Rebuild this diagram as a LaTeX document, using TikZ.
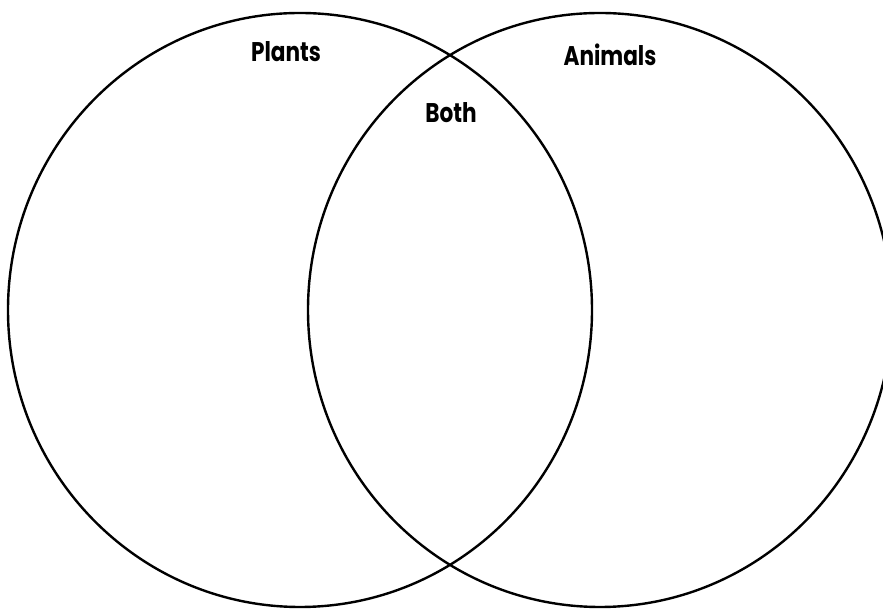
\documentclass[tikz,border=0pt]{standalone}
\usepackage{fontspec}
\setmainfont{Poppins}
\begin{document}
\begin{tikzpicture}[x=1pt,y=1pt,
  ring/.style={draw=black,line width=2.4pt},
  lbl/.style={font=\fontsize{27}{30}\selectfont\bfseries,inner sep=0pt,anchor=base}]
\useasboundingbox (0,0) rectangle (883,609);
\begin{scope}
\clip (0,0) rectangle (883,609);
\draw[ring] (300,299) ellipse [x radius=292, y radius=297];
\draw[ring] (600,299) ellipse [x radius=292, y radius=297];
\end{scope}
\node[lbl] (plants) at (286,547) {\scalebox{0.8}[1]{Plants}};
\node[lbl] (both) at (451,486) {\scalebox{0.8}[1]{Both}};
\node[lbl] (animals) at (610,543) {\scalebox{0.8}[1]{Animals}};
\end{tikzpicture}
\end{document}
